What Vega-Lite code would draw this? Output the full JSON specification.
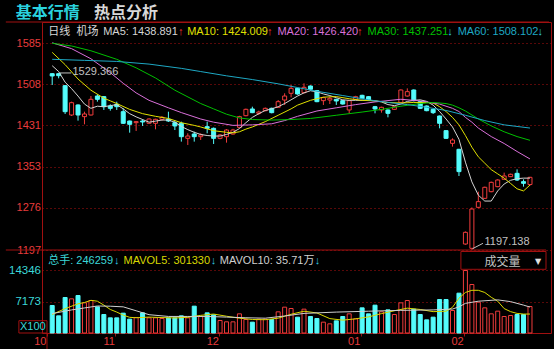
{
"$schema": "https://vega.github.io/schema/vega-lite/v6.json",
"width": 509, "height": 311,
"autosize": "none",
"padding": {"left": 42, "top": 22, "right": 3, "bottom": 16},
"background": "#000000",
"config": {"view": {"stroke": "#a01010", "strokeWidth": 1}, "font": "Liberation Sans, Noto Sans CJK SC, sans-serif"},
"datasets": {
"k": [
{"i":0,"o":1528.0,"h":1528.9,"l":1506.8,"c":1523.7,"v":6311,"d":"down"},
{"i":1,"o":1528.0,"h":1529.37,"l":1519.3,"c":1524.3,"v":3940,"d":"down"},
{"i":2,"o":1505.5,"h":1506.5,"l":1452.4,"c":1456.7,"v":8147,"d":"down"},
{"i":3,"o":1450.5,"h":1475.5,"l":1448.6,"c":1473.6,"v":7841,"d":"up"},
{"i":4,"o":1469.3,"h":1470.5,"l":1439.9,"c":1450.5,"v":8606,"d":"down"},
{"i":5,"o":1447.4,"h":1456.7,"l":1433.0,"c":1452.4,"v":6923,"d":"up"},
{"i":6,"o":1450.5,"h":1486.1,"l":1449.5,"c":1479.9,"v":7459,"d":"up"},
{"i":7,"o":1486.1,"h":1489.3,"l":1475.5,"c":1479.9,"v":6005,"d":"down"},
{"i":8,"o":1484.9,"h":1486.0,"l":1459.9,"c":1466.1,"v":4246,"d":"down"},
{"i":9,"o":1467.4,"h":1470.5,"l":1458.6,"c":1463.0,"v":3481,"d":"down"},
{"i":10,"o":1470.5,"h":1475.5,"l":1459.9,"c":1466.1,"v":3481,"d":"down"},
{"i":11,"o":1456.7,"h":1463.0,"l":1433.6,"c":1434.9,"v":4552,"d":"down"},
{"i":12,"o":1439.2,"h":1440.0,"l":1417.3,"c":1433.0,"v":3175,"d":"down"},
{"i":13,"o":1436.1,"h":1439.2,"l":1420.5,"c":1438.0,"v":3557,"d":"up"},
{"i":14,"o":1439.2,"h":1442.4,"l":1429.9,"c":1437.4,"v":4628,"d":"down"},
{"i":15,"o":1434.9,"h":1444.2,"l":1433.6,"c":1443.0,"v":3481,"d":"up"},
{"i":16,"o":1434.9,"h":1443.5,"l":1423.6,"c":1442.4,"v":3481,"d":"up"},
{"i":17,"o":1442.4,"h":1448.6,"l":1439.9,"c":1446.1,"v":3328,"d":"up"},
{"i":18,"o":1442.4,"h":1456.7,"l":1437.4,"c":1439.2,"v":3481,"d":"down"},
{"i":19,"o":1436.1,"h":1439.9,"l":1422.3,"c":1429.9,"v":3481,"d":"down"},
{"i":20,"o":1434.9,"h":1438.0,"l":1400.5,"c":1409.8,"v":3940,"d":"down"},
{"i":21,"o":1406.7,"h":1416.1,"l":1394.2,"c":1411.1,"v":3481,"d":"up"},
{"i":22,"o":1414.8,"h":1419.2,"l":1400.5,"c":1409.8,"v":6158,"d":"down"},
{"i":23,"o":1409.8,"h":1416.1,"l":1403.6,"c":1413.0,"v":3787,"d":"up"},
{"i":24,"o":1428.6,"h":1438.0,"l":1416.1,"c":1425.5,"v":4628,"d":"down"},
{"i":25,"o":1425.5,"h":1427.0,"l":1396.1,"c":1406.7,"v":4169,"d":"down"},
{"i":26,"o":1406.7,"h":1414.8,"l":1405.0,"c":1413.0,"v":2869,"d":"up"},
{"i":27,"o":1409.8,"h":1424.0,"l":1398.6,"c":1422.3,"v":2563,"d":"up"},
{"i":28,"o":1414.8,"h":1424.5,"l":1413.5,"c":1422.3,"v":2563,"d":"up"},
{"i":29,"o":1427.3,"h":1449.0,"l":1426.0,"c":1447.4,"v":4399,"d":"up"},
{"i":30,"o":1449.2,"h":1462.5,"l":1448.0,"c":1461.1,"v":3098,"d":"up"},
{"i":31,"o":1461.8,"h":1466.1,"l":1454.0,"c":1454.9,"v":2486,"d":"down"},
{"i":32,"o":1453.6,"h":1458.6,"l":1450.5,"c":1456.1,"v":3175,"d":"up"},
{"i":33,"o":1458.6,"h":1464.5,"l":1457.5,"c":1463.0,"v":3175,"d":"up"},
{"i":34,"o":1463.0,"h":1464.3,"l":1453.6,"c":1454.9,"v":3098,"d":"down"},
{"i":35,"o":1464.9,"h":1478.6,"l":1463.8,"c":1475.5,"v":4858,"d":"up"},
{"i":36,"o":1478.6,"h":1491.2,"l":1469.3,"c":1486.1,"v":5929,"d":"up"},
{"i":37,"o":1491.2,"h":1506.8,"l":1483.6,"c":1500.5,"v":5623,"d":"up"},
{"i":38,"o":1500.5,"h":1501.5,"l":1488.5,"c":1489.9,"v":3634,"d":"down"},
{"i":39,"o":1492.4,"h":1509.9,"l":1491.2,"c":1502.4,"v":5470,"d":"up"},
{"i":40,"o":1504.9,"h":1506.0,"l":1496.2,"c":1498.7,"v":3787,"d":"down"},
{"i":41,"o":1496.2,"h":1497.4,"l":1474.5,"c":1475.5,"v":3328,"d":"down"},
{"i":42,"o":1477.4,"h":1484.5,"l":1469.3,"c":1483.0,"v":2486,"d":"up"},
{"i":43,"o":1478.6,"h":1484.9,"l":1471.1,"c":1481.8,"v":2104,"d":"up"},
{"i":44,"o":1479.9,"h":1481.0,"l":1469.3,"c":1476.8,"v":2792,"d":"down"},
{"i":45,"o":1477.4,"h":1478.5,"l":1470.0,"c":1471.1,"v":3787,"d":"down"},
{"i":46,"o":1459.9,"h":1478.5,"l":1453.6,"c":1477.4,"v":4399,"d":"up"},
{"i":47,"o":1479.9,"h":1486.5,"l":1478.5,"c":1484.9,"v":3251,"d":"up"},
{"i":48,"o":1487.4,"h":1488.5,"l":1480.0,"c":1481.1,"v":5776,"d":"down"},
{"i":49,"o":1484.9,"h":1486.0,"l":1477.5,"c":1478.6,"v":4399,"d":"down"},
{"i":50,"o":1466.1,"h":1467.5,"l":1453.6,"c":1461.8,"v":6388,"d":"down"},
{"i":51,"o":1459.9,"h":1466.0,"l":1454.9,"c":1464.9,"v":4858,"d":"up"},
{"i":52,"o":1459.9,"h":1461.0,"l":1446.1,"c":1453.6,"v":5317,"d":"down"},
{"i":53,"o":1461.1,"h":1467.5,"l":1460.0,"c":1466.1,"v":4246,"d":"up"},
{"i":54,"o":1473.6,"h":1498.5,"l":1472.5,"c":1497.4,"v":6923,"d":"up"},
{"i":55,"o":1486.1,"h":1500.5,"l":1484.9,"c":1494.3,"v":7459,"d":"up"},
{"i":56,"o":1497.4,"h":1498.5,"l":1476.0,"c":1477.4,"v":5470,"d":"down"},
{"i":57,"o":1475.5,"h":1476.5,"l":1462.0,"c":1463.0,"v":4246,"d":"down"},
{"i":58,"o":1467.4,"h":1468.5,"l":1457.5,"c":1458.6,"v":3022,"d":"down"},
{"i":59,"o":1461.1,"h":1462.0,"l":1452.4,"c":1454.9,"v":3634,"d":"down"},
{"i":60,"o":1448.6,"h":1449.5,"l":1425.5,"c":1434.9,"v":7688,"d":"down"},
{"i":61,"o":1421.1,"h":1422.0,"l":1405.5,"c":1406.7,"v":7688,"d":"down"},
{"i":62,"o":1397.3,"h":1406.7,"l":1391.1,"c":1403.6,"v":5164,"d":"up"},
{"i":63,"o":1386.1,"h":1387.0,"l":1336.0,"c":1344.2,"v":9142,"d":"down"},
{"i":64,"o":1208.4,"h":1232.0,"l":1207.0,"c":1230.3,"v":14346,"d":"up"},
{"i":65,"o":1200.3,"h":1277.0,"l":1197.14,"c":1274.1,"v":11131,"d":"up"},
{"i":66,"o":1277.2,"h":1306.6,"l":1275.4,"c":1287.9,"v":7076,"d":"up"},
{"i":67,"o":1294.1,"h":1316.0,"l":1293.0,"c":1314.8,"v":5776,"d":"up"},
{"i":68,"o":1306.6,"h":1325.5,"l":1305.5,"c":1324.1,"v":4399,"d":"up"},
{"i":69,"o":1316.0,"h":1330.0,"l":1315.0,"c":1328.5,"v":5011,"d":"up"},
{"i":70,"o":1329.8,"h":1342.3,"l":1329.0,"c":1336.0,"v":3787,"d":"up"},
{"i":71,"o":1334.8,"h":1340.5,"l":1334.0,"c":1339.2,"v":4016,"d":"up"},
{"i":72,"o":1341.0,"h":1348.5,"l":1326.6,"c":1328.5,"v":4246,"d":"down"},
{"i":73,"o":1325.4,"h":1329.8,"l":1316.0,"c":1322.3,"v":4246,"d":"down"},
{"i":74,"o":1320.0,"h":1334.5,"l":1318.0,"c":1333.5,"v":6082,"d":"up"}
],
"ma": [
{"i":0,"s":"ma5","p":1543},{"i":1,"s":"ma5","p":1532},{"i":2,"s":"ma5","p":1512},{"i":3,"s":"ma5","p":1500},{"i":4,"s":"ma5","p":1486},{"i":5,"s":"ma5","p":1471},{"i":6,"s":"ma5","p":1463},{"i":7,"s":"ma5","p":1467},{"i":8,"s":"ma5","p":1466},{"i":9,"s":"ma5","p":1468},{"i":10,"s":"ma5","p":1470},{"i":11,"s":"ma5","p":1462},{"i":12,"s":"ma5","p":1453},{"i":13,"s":"ma5","p":1447},{"i":14,"s":"ma5","p":1442},{"i":15,"s":"ma5","p":1437},{"i":16,"s":"ma5","p":1439},{"i":17,"s":"ma5","p":1441},{"i":18,"s":"ma5","p":1441},{"i":19,"s":"ma5","p":1437},{"i":20,"s":"ma5","p":1429},{"i":21,"s":"ma5","p":1423},{"i":22,"s":"ma5","p":1418},{"i":23,"s":"ma5","p":1414},{"i":24,"s":"ma5","p":1412},{"i":25,"s":"ma5","p":1411},{"i":26,"s":"ma5","p":1411},{"i":27,"s":"ma5","p":1414},{"i":28,"s":"ma5","p":1418},{"i":29,"s":"ma5","p":1425},{"i":30,"s":"ma5","p":1436},{"i":31,"s":"ma5","p":1446},{"i":32,"s":"ma5","p":1453},{"i":33,"s":"ma5","p":1459},{"i":34,"s":"ma5","p":1462},{"i":35,"s":"ma5","p":1466},{"i":36,"s":"ma5","p":1472},{"i":37,"s":"ma5","p":1479},{"i":38,"s":"ma5","p":1486},{"i":39,"s":"ma5","p":1492},{"i":40,"s":"ma5","p":1496},{"i":41,"s":"ma5","p":1494},{"i":42,"s":"ma5","p":1490},{"i":43,"s":"ma5","p":1487},{"i":44,"s":"ma5","p":1483},{"i":45,"s":"ma5","p":1479},{"i":46,"s":"ma5","p":1478},{"i":47,"s":"ma5","p":1478},{"i":48,"s":"ma5","p":1478},{"i":49,"s":"ma5","p":1478},{"i":50,"s":"ma5","p":1477},{"i":51,"s":"ma5","p":1475},{"i":52,"s":"ma5","p":1470},{"i":53,"s":"ma5","p":1468},{"i":54,"s":"ma5","p":1471},{"i":55,"s":"ma5","p":1476},{"i":56,"s":"ma5","p":1478},{"i":57,"s":"ma5","p":1479},{"i":58,"s":"ma5","p":1476},{"i":59,"s":"ma5","p":1469},{"i":60,"s":"ma5","p":1457},{"i":61,"s":"ma5","p":1443},{"i":62,"s":"ma5","p":1428},{"i":63,"s":"ma5","p":1405},{"i":64,"s":"ma5","p":1362},{"i":65,"s":"ma5","p":1325},{"i":66,"s":"ma5","p":1300},{"i":67,"s":"ma5","p":1289},{"i":68,"s":"ma5","p":1289},{"i":69,"s":"ma5","p":1308},{"i":70,"s":"ma5","p":1321},{"i":71,"s":"ma5","p":1328},{"i":72,"s":"ma5","p":1331},{"i":73,"s":"ma5","p":1332},{"i":74,"s":"ma5","p":1332},
{"i":0,"s":"ma10","p":1568},{"i":2,"s":"ma10","p":1545},{"i":4,"s":"ma10","p":1518},{"i":6,"s":"ma10","p":1497},{"i":8,"s":"ma10","p":1482},{"i":9,"s":"ma10","p":1477},{"i":10,"s":"ma10","p":1472},{"i":12,"s":"ma10","p":1461},{"i":14,"s":"ma10","p":1453},{"i":16,"s":"ma10","p":1448},{"i":18,"s":"ma10","p":1444},{"i":20,"s":"ma10","p":1436},{"i":22,"s":"ma10","p":1431},{"i":23,"s":"ma10","p":1428},{"i":25,"s":"ma10","p":1421},{"i":27,"s":"ma10","p":1418},{"i":28,"s":"ma10","p":1417},{"i":29,"s":"ma10","p":1419},{"i":30,"s":"ma10","p":1424},{"i":31,"s":"ma10","p":1428},{"i":33,"s":"ma10","p":1438},{"i":35,"s":"ma10","p":1450},{"i":37,"s":"ma10","p":1462},{"i":38,"s":"ma10","p":1469},{"i":40,"s":"ma10","p":1478},{"i":42,"s":"ma10","p":1484},{"i":44,"s":"ma10","p":1485},{"i":46,"s":"ma10","p":1481},{"i":48,"s":"ma10","p":1478},{"i":50,"s":"ma10","p":1477},{"i":52,"s":"ma10","p":1474},{"i":54,"s":"ma10","p":1473},{"i":56,"s":"ma10","p":1474},{"i":58,"s":"ma10","p":1474},{"i":59,"s":"ma10","p":1473},{"i":60,"s":"ma10","p":1466},{"i":61,"s":"ma10","p":1457},{"i":62,"s":"ma10","p":1446},{"i":63,"s":"ma10","p":1432},{"i":64,"s":"ma10","p":1412},{"i":65,"s":"ma10","p":1390},{"i":66,"s":"ma10","p":1372},{"i":67,"s":"ma10","p":1360},{"i":68,"s":"ma10","p":1348},{"i":69,"s":"ma10","p":1340},{"i":70,"s":"ma10","p":1332},{"i":71,"s":"ma10","p":1322},{"i":72,"s":"ma10","p":1312},{"i":73,"s":"ma10","p":1308},{"i":74,"s":"ma10","p":1319},
{"i":0,"s":"ma20","p":1586},{"i":3,"s":"ma20","p":1575},{"i":6,"s":"ma20","p":1556},{"i":9,"s":"ma20","p":1530},{"i":11,"s":"ma20","p":1510},{"i":13,"s":"ma20","p":1492},{"i":15,"s":"ma20","p":1478},{"i":18,"s":"ma20","p":1464},{"i":20,"s":"ma20","p":1455},{"i":23,"s":"ma20","p":1443},{"i":25,"s":"ma20","p":1437},{"i":28,"s":"ma20","p":1431},{"i":31,"s":"ma20","p":1432},{"i":34,"s":"ma20","p":1434},{"i":36,"s":"ma20","p":1440},{"i":38,"s":"ma20","p":1448},{"i":41,"s":"ma20","p":1458},{"i":44,"s":"ma20","p":1464},{"i":47,"s":"ma20","p":1470},{"i":50,"s":"ma20","p":1475},{"i":54,"s":"ma20","p":1480},{"i":57,"s":"ma20","p":1477},{"i":60,"s":"ma20","p":1471},{"i":62,"s":"ma20","p":1463},{"i":63,"s":"ma20","p":1457},{"i":64,"s":"ma20","p":1446},{"i":65,"s":"ma20","p":1437},{"i":66,"s":"ma20","p":1426},{"i":68,"s":"ma20","p":1410},{"i":70,"s":"ma20","p":1397},{"i":72,"s":"ma20","p":1382},{"i":74,"s":"ma20","p":1368},
{"i":0,"s":"ma30","p":1585},{"i":3,"s":"ma30","p":1580},{"i":6,"s":"ma30","p":1571},{"i":10,"s":"ma30","p":1555},{"i":13,"s":"ma30","p":1539},{"i":16,"s":"ma30","p":1520},{"i":19,"s":"ma30","p":1497},{"i":23,"s":"ma30","p":1472},{"i":25,"s":"ma30","p":1462},{"i":27,"s":"ma30","p":1452},{"i":29,"s":"ma30","p":1445},{"i":31,"s":"ma30","p":1442},{"i":34,"s":"ma30","p":1441},{"i":37,"s":"ma30","p":1442},{"i":40,"s":"ma30","p":1444},{"i":44,"s":"ma30","p":1450},{"i":48,"s":"ma30","p":1456},{"i":51,"s":"ma30","p":1461},{"i":54,"s":"ma30","p":1467},{"i":57,"s":"ma30","p":1472},{"i":59,"s":"ma30","p":1474},{"i":61,"s":"ma30","p":1472},{"i":62,"s":"ma30","p":1469},{"i":63,"s":"ma30","p":1464},{"i":64,"s":"ma30","p":1458},{"i":66,"s":"ma30","p":1443},{"i":68,"s":"ma30","p":1430},{"i":70,"s":"ma30","p":1419},{"i":72,"s":"ma30","p":1410},{"i":74,"s":"ma30","p":1403},
{"i":0,"s":"ma60","p":1555},{"i":5,"s":"ma60","p":1553},{"i":10,"s":"ma60","p":1551},{"i":15,"s":"ma60","p":1546},{"i":20,"s":"ma60","p":1538},{"i":23,"s":"ma60","p":1532},{"i":27,"s":"ma60","p":1524},{"i":31,"s":"ma60","p":1517},{"i":35,"s":"ma60","p":1509},{"i":38,"s":"ma60","p":1502},{"i":41,"s":"ma60","p":1495},{"i":45,"s":"ma60","p":1487},{"i":49,"s":"ma60","p":1479},{"i":52,"s":"ma60","p":1474},{"i":55,"s":"ma60","p":1470},{"i":58,"s":"ma60","p":1465},{"i":61,"s":"ma60","p":1459},{"i":64,"s":"ma60","p":1450},{"i":67,"s":"ma60","p":1440},{"i":70,"s":"ma60","p":1432},{"i":74,"s":"ma60","p":1426}
],
"mv": [
{"i":0,"s":"mv5","v":4250},{"i":2,"s":"mv5","v":5600},{"i":4,"s":"mv5","v":6700},{"i":5,"s":"mv5","v":7000},{"i":6,"s":"mv5","v":7500},{"i":7,"s":"mv5","v":7300},{"i":8,"s":"mv5","v":6400},{"i":9,"s":"mv5","v":5400},{"i":10,"s":"mv5","v":4800},{"i":11,"s":"mv5","v":4100},{"i":12,"s":"mv5","v":3600},{"i":13,"s":"mv5","v":3500},{"i":15,"s":"mv5","v":3650},{"i":17,"s":"mv5","v":3550},{"i":19,"s":"mv5","v":3450},{"i":21,"s":"mv5","v":3600},{"i":23,"s":"mv5","v":4050},{"i":25,"s":"mv5","v":4350},{"i":27,"s":"mv5","v":3850},{"i":29,"s":"mv5","v":3400},{"i":31,"s":"mv5","v":3100},{"i":33,"s":"mv5","v":3050},{"i":35,"s":"mv5","v":3400},{"i":37,"s":"mv5","v":4300},{"i":39,"s":"mv5","v":5000},{"i":41,"s":"mv5","v":4600},{"i":43,"s":"mv5","v":3300},{"i":45,"s":"mv5","v":2950},{"i":47,"s":"mv5","v":3250},{"i":49,"s":"mv5","v":3700},{"i":51,"s":"mv5","v":4450},{"i":53,"s":"mv5","v":5100},{"i":55,"s":"mv5","v":5700},{"i":57,"s":"mv5","v":5400},{"i":59,"s":"mv5","v":4900},{"i":61,"s":"mv5","v":5000},{"i":62,"s":"mv5","v":5900},{"i":63,"s":"mv5","v":8000},{"i":64,"s":"mv5","v":9300},{"i":65,"s":"mv5","v":9800},{"i":66,"s":"mv5","v":9800},{"i":67,"s":"mv5","v":9300},{"i":68,"s":"mv5","v":8200},{"i":69,"s":"mv5","v":7300},{"i":70,"s":"mv5","v":5600},{"i":71,"s":"mv5","v":4900},{"i":72,"s":"mv5","v":4500},{"i":73,"s":"mv5","v":4350},{"i":74,"s":"mv5","v":4350},
{"i":0,"s":"mv10","v":4450},{"i":3,"s":"mv10","v":5300},{"i":5,"s":"mv10","v":5750},{"i":7,"s":"mv10","v":6200},{"i":9,"s":"mv10","v":6150},{"i":11,"s":"mv10","v":6000},{"i":13,"s":"mv10","v":5100},{"i":15,"s":"mv10","v":4200},{"i":18,"s":"mv10","v":3800},{"i":21,"s":"mv10","v":3800},{"i":24,"s":"mv10","v":3800},{"i":27,"s":"mv10","v":3650},{"i":30,"s":"mv10","v":3500},{"i":33,"s":"mv10","v":3400},{"i":36,"s":"mv10","v":3900},{"i":39,"s":"mv10","v":4500},{"i":44,"s":"mv10","v":4800},{"i":49,"s":"mv10","v":5000},{"i":54,"s":"mv10","v":5200},{"i":59,"s":"mv10","v":5300},{"i":62,"s":"mv10","v":5500},{"i":63,"s":"mv10","v":6000},{"i":64,"s":"mv10","v":6800},{"i":66,"s":"mv10","v":7300},{"i":69,"s":"mv10","v":7600},{"i":71,"s":"mv10","v":7200},{"i":73,"s":"mv10","v":6400},{"i":74,"s":"mv10","v":5950}
],
"hdr": [
{"t":"基本行情","s":"hdr","i":-5.66,"p":1642.8},
{"t":"热点分析","s":"hdr2","i":6.48,"p":1642.8}
],
"cjk": [
{"t":"日线","s":"hdr2","i":-0.61,"p":1605.3},
{"t":"机场","s":"hdr2","i":3.75,"p":1605.3}
],
"ptxt": [
{"t":"MA5: 1438.891","s":"ma5","i":7.9,"p":1605.3},
{"t":"↑","s":"aup","i":19.47,"p":1605.3},
{"t":"MA10: 1424.009","s":"ma10","i":20.91,"p":1605.3},
{"t":"↑","s":"aup","i":33.25,"p":1605.3},
{"t":"MA20: 1426.420","s":"ma20","i":34.88,"p":1605.3},
{"t":"↑","s":"aup","i":47.2,"p":1605.3},
{"t":"MA30: 1437.251","s":"ma30","i":48.85,"p":1605.3},
{"t":"↓","s":"adn","i":61.19,"p":1605.3},
{"t":"MA60: 1508.102","s":"ma60","i":62.8,"p":1605.3},
{"t":"↓","s":"adn","i":75.16,"p":1605.3},
{"t":"1529.366","s":"txt","i":3.14,"p":1531.0},
{"t":"1197.138","s":"txt","i":66.96,"p":1212.7}
],
"vtxt": [
{"t":"总手: 246259","s":"vol","i":-0.61,"v":16594},
{"t":"↓","s":"adn","i":9.59,"v":16594},
{"t":"MAVOL5: 301330","s":"mv5","i":11.04,"v":16594},
{"t":"↓","s":"adn","i":24.55,"v":16594},
{"t":"MAVOL10: 35.71万","s":"mv10","i":25.96,"v":16594},
{"t":"↓","s":"adn","i":40.65,"v":16594}
],
"vbox": [{"t":"成交量","s":"txt","i":69.75,"v":16364}],
"vtri": [{"t":"▼","s":"white","i":75.27,"v":16364}],
"vx": [{"t":"X100","s":"vol","i":-3.0,"v":1308}]
},
"layer": [
{"layer": [
 {"data": {"name": "k"}, "mark": {"type": "rule", "strokeWidth": 1},
  "encoding": {
   "x": {"field": "i", "type": "quantitative", "scale": {"domain": [-0.805, 76.48], "nice": false, "zero": false}, "title": null,
     "axis": {"orient": "bottom", "values": [-0.805, 9.8, 25.9, 47.8, 63.8], "labelExpr": "datum.value < 0 ? '10' : datum.value < 15 ? '11' : datum.value < 30 ? '12' : datum.value < 50 ? '01' : '02'", "labelColor": "#e83c3c", "labelFont": "Liberation Sans", "labelFontSize": 11, "labelAlign": "right", "labelBaseline": "top", "labelOffset": -1, "labelPadding": -1, "ticks": true, "tickSize": 3, "tickColor": "#a01010", "domain": false, "grid": false, "labelFlush": false, "labelOverlap": false, "labelBound": false, "title": null}},
   "y": {"field": "l", "type": "quantitative", "scale": {"domain": [1041.4, 1625.0], "nice": false, "zero": false}, "title": null,
     "axis": {"orient": "left", "values": [1197, 1276, 1353, 1431, 1508, 1585], "format": "d", "labelColor": "#e83c3c", "labelFont": "Liberation Sans", "labelFontSize": 11, "labelAlign": "right", "labelBaseline": "middle", "labelPadding": 1.5, "ticks": false, "tickSize": 0, "domain": false, "grid": true, "gridColor": "#b01010", "gridDash": [1, 3], "gridWidth": 1, "labelFlush": false, "labelOverlap": false, "labelBound": false, "title": null}},
   "y2": {"field": "h"},
   "color": {"field": "d", "type": "nominal", "legend": null,
     "scale": {"domain": ["up","down","ma5","ma10","ma20","ma30","ma60","mv5","mv10","hdr","hdr2","txt","vol","aup","adn","white"], "range": ["#f03c3c","#54fcfc","#d4d4d4","#e0e000","#da70da","#00c000","#1ea8c4","#d8d800","#d0d0d0","#2ad2de","#d8d8d8","#c0c0c0","#3cd8d8","#ff3030","#30c8e0","#e0e0e0"]}}
  }},
 {"data": {"name": "k"}, "mark": {"type": "bar", "width": 4, "strokeWidth": 1},
  "encoding": {
   "x": {"field": "i", "type": "quantitative", "scale": {"domain": [-0.805, 76.48], "nice": false, "zero": false}, "title": null},
   "y": {"field": "o", "type": "quantitative", "scale": {"domain": [1041.4, 1625.0], "nice": false, "zero": false}, "title": null},
   "y2": {"field": "c"},
   "fill": {"field": "d", "type": "nominal", "legend": null, "scale": {"domain": ["up","down"], "range": ["#000000","#54fcfc"]}},
   "stroke": {"field": "d", "type": "nominal", "legend": null, "scale": {"domain": ["up","down"], "range": ["#f03c3c","#54fcfc"]}}
  }},
 {"data": {"name": "ma"}, "mark": {"type": "line", "strokeWidth": 1},
  "encoding": {
   "x": {"field": "i", "type": "quantitative", "scale": {"domain": [-0.805, 76.48], "nice": false, "zero": false}, "title": null},
   "y": {"field": "p", "type": "quantitative", "scale": {"domain": [1041.4, 1625.0], "nice": false, "zero": false}, "title": null},
   "color": {"field": "s", "type": "nominal", "legend": null,
     "scale": {"domain": ["up","down","ma5","ma10","ma20","ma30","ma60","mv5","mv10","hdr","hdr2","txt","vol","aup","adn","white"], "range": ["#f03c3c","#54fcfc","#d4d4d4","#e0e000","#da70da","#00c000","#1ea8c4","#d8d800","#d0d0d0","#2ad2de","#d8d8d8","#c0c0c0","#3cd8d8","#ff3030","#30c8e0","#e0e0e0"]}}
  }},
 {"data": {"values": [{}]}, "mark": {"type": "rule", "color": "#a01010", "strokeWidth": 1},
  "encoding": {
   "x": {"datum": -7.18, "type": "quantitative", "scale": {"domain": [-0.805, 76.48], "nice": false, "zero": false}, "title": null},
   "x2": {"datum": 76.94},
   "y": {"datum": 1625.0, "type": "quantitative", "scale": {"domain": [1041.4, 1625.0], "nice": false, "zero": false}, "title": null}
  }},
 {"data": {"values": [{}]}, "mark": {"type": "rule", "color": "#a01010", "strokeWidth": 1},
  "encoding": {
   "x": {"datum": -7.18, "type": "quantitative", "scale": {"domain": [-0.805, 76.48], "nice": false, "zero": false}, "title": null},
   "x2": {"datum": 76.48},
   "y": {"datum": 1197.14, "type": "quantitative", "scale": {"domain": [1041.4, 1625.0], "nice": false, "zero": false}, "title": null}
  }},
 {"data": {"values": [{}]}, "mark": {"type": "rule", "color": "#c0c0c0", "strokeWidth": 1},
  "encoding": {
   "x": {"datum": 1.15, "type": "quantitative", "scale": {"domain": [-0.805, 76.48], "nice": false, "zero": false}, "title": null},
   "x2": {"datum": 2.95},
   "y": {"datum": 1529.37, "type": "quantitative", "scale": {"domain": [1041.4, 1625.0], "nice": false, "zero": false}, "title": null}
  }},
 {"data": {"values": [{}]}, "mark": {"type": "rule", "color": "#c0c0c0", "strokeWidth": 1},
  "encoding": {
   "x": {"datum": 65.1, "type": "quantitative", "scale": {"domain": [-0.805, 76.48], "nice": false, "zero": false}, "title": null},
   "x2": {"datum": 66.72},
   "y": {"datum": 1199.6, "type": "quantitative", "scale": {"domain": [1041.4, 1625.0], "nice": false, "zero": false}, "title": null},
   "y2": {"datum": 1209.7}
  }},
 {"data": {"name": "hdr"}, "mark": {"type": "text", "align": "left", "baseline": "middle", "fontSize": 16, "fontWeight": "bold", "font": "Noto Sans CJK SC"},
  "encoding": {
   "x": {"field": "i", "type": "quantitative", "scale": {"domain": [-0.805, 76.48], "nice": false, "zero": false}, "title": null},
   "y": {"field": "p", "type": "quantitative", "scale": {"domain": [1041.4, 1625.0], "nice": false, "zero": false}, "title": null},
   "text": {"field": "t"},
   "color": {"field": "s", "type": "nominal", "legend": null,
     "scale": {"domain": ["up","down","ma5","ma10","ma20","ma30","ma60","mv5","mv10","hdr","hdr2","txt","vol","aup","adn","white"], "range": ["#f03c3c","#54fcfc","#d4d4d4","#e0e000","#da70da","#00c000","#1ea8c4","#d8d800","#d0d0d0","#2ad2de","#d8d8d8","#c0c0c0","#3cd8d8","#ff3030","#30c8e0","#e0e0e0"]}}
  }},
 {"data": {"name": "cjk"}, "mark": {"type": "text", "align": "left", "baseline": "middle", "fontSize": 11, "font": "Noto Sans CJK SC"},
  "encoding": {
   "x": {"field": "i", "type": "quantitative", "scale": {"domain": [-0.805, 76.48], "nice": false, "zero": false}, "title": null},
   "y": {"field": "p", "type": "quantitative", "scale": {"domain": [1041.4, 1625.0], "nice": false, "zero": false}, "title": null},
   "text": {"field": "t"},
   "color": {"field": "s", "type": "nominal", "legend": null,
     "scale": {"domain": ["up","down","ma5","ma10","ma20","ma30","ma60","mv5","mv10","hdr","hdr2","txt","vol","aup","adn","white"], "range": ["#f03c3c","#54fcfc","#d4d4d4","#e0e000","#da70da","#00c000","#1ea8c4","#d8d800","#d0d0d0","#2ad2de","#d8d8d8","#c0c0c0","#3cd8d8","#ff3030","#30c8e0","#e0e0e0"]}}
  }},
 {"data": {"name": "ptxt"}, "mark": {"type": "text", "align": "left", "baseline": "middle", "fontSize": 11},
  "encoding": {
   "x": {"field": "i", "type": "quantitative", "scale": {"domain": [-0.805, 76.48], "nice": false, "zero": false}, "title": null},
   "y": {"field": "p", "type": "quantitative", "scale": {"domain": [1041.4, 1625.0], "nice": false, "zero": false}, "title": null},
   "text": {"field": "t"},
   "color": {"field": "s", "type": "nominal", "legend": null,
     "scale": {"domain": ["up","down","ma5","ma10","ma20","ma30","ma60","mv5","mv10","hdr","hdr2","txt","vol","aup","adn","white"], "range": ["#f03c3c","#54fcfc","#d4d4d4","#e0e000","#da70da","#00c000","#1ea8c4","#d8d800","#d0d0d0","#2ad2de","#d8d8d8","#c0c0c0","#3cd8d8","#ff3030","#30c8e0","#e0e0e0"]}}
  }}
]},
{"layer": [
 {"data": {"name": "k"}, "mark": {"type": "bar", "width": 4, "strokeWidth": 1},
  "encoding": {
   "x": {"field": "i", "type": "quantitative", "scale": {"domain": [-0.805, 76.48], "nice": false, "zero": false}, "title": null},
   "y": {"field": "v", "type": "quantitative", "stack": null, "scale": {"domain": [0, 71380], "nice": false, "zero": true}, "title": null,
     "axis": {"orient": "left", "values": [7173, 14346], "format": "d", "labelColor": "#3cd8d8", "labelFont": "Liberation Sans", "labelFontSize": 11.5, "labelAlign": "right", "labelBaseline": "middle", "labelPadding": 1.5, "ticks": false, "tickSize": 0, "domain": false, "grid": true, "gridColor": "#b01010", "gridDash": [1, 3], "gridWidth": 1, "labelFlush": false, "labelOverlap": false, "labelBound": false, "title": null}},
   "fill": {"field": "d", "type": "nominal", "legend": null, "scale": {"domain": ["up","down"], "range": ["#000000","#54fcfc"]}},
   "stroke": {"field": "d", "type": "nominal", "legend": null, "scale": {"domain": ["up","down"], "range": ["#f03c3c","#54fcfc"]}}
  }},
 {"data": {"name": "mv"}, "mark": {"type": "line", "strokeWidth": 1},
  "encoding": {
   "x": {"field": "i", "type": "quantitative", "scale": {"domain": [-0.805, 76.48], "nice": false, "zero": false}, "title": null},
   "y": {"field": "v", "type": "quantitative", "scale": {"domain": [0, 71380], "nice": false, "zero": true}, "title": null},
   "color": {"field": "s", "type": "nominal", "legend": null,
     "scale": {"domain": ["up","down","ma5","ma10","ma20","ma30","ma60","mv5","mv10","hdr","hdr2","txt","vol","aup","adn","white"], "range": ["#f03c3c","#54fcfc","#d4d4d4","#e0e000","#da70da","#00c000","#1ea8c4","#d8d800","#d0d0d0","#2ad2de","#d8d8d8","#c0c0c0","#3cd8d8","#ff3030","#30c8e0","#e0e0e0"]}}
  }},
 {"data": {"values": [{}]}, "mark": {"type": "rect", "filled": false, "color": "#a01010", "strokeWidth": 1},
  "encoding": {
   "x": {"datum": 63.3, "type": "quantitative", "scale": {"domain": [-0.805, 76.48], "nice": false, "zero": false}, "title": null},
   "x2": {"datum": 76.48},
   "y": {"datum": 18705, "type": "quantitative", "scale": {"domain": [0, 71380], "nice": false, "zero": true}, "title": null},
   "y2": {"datum": 14620}
  }},
 {"data": {"values": [{}]}, "mark": {"type": "rect", "filled": false, "color": "#a01010", "strokeWidth": 1},
  "encoding": {
   "x": {"datum": -5.16, "type": "quantitative", "scale": {"domain": [-0.805, 76.48], "nice": false, "zero": false}, "title": null},
   "x2": {"datum": -0.805},
   "y": {"datum": 2823, "type": "quantitative", "scale": {"domain": [0, 71380], "nice": false, "zero": true}, "title": null},
   "y2": {"datum": 0}
  }},
 {"data": {"values": [{}]}, "mark": {"type": "rule", "color": "#a01010", "strokeWidth": 1},
  "encoding": {
   "x": {"datum": -0.805, "type": "quantitative", "scale": {"domain": [-0.805, 76.48], "nice": false, "zero": false}, "title": null},
   "y": {"datum": 0, "type": "quantitative", "scale": {"domain": [0, 71380], "nice": false, "zero": true}, "title": null},
   "y2": {"datum": -3700}
  }},
 {"data": {"name": "vtxt"}, "mark": {"type": "text", "align": "left", "baseline": "middle", "fontSize": 11},
  "encoding": {
   "x": {"field": "i", "type": "quantitative", "scale": {"domain": [-0.805, 76.48], "nice": false, "zero": false}, "title": null},
   "y": {"field": "v", "type": "quantitative", "scale": {"domain": [0, 71380], "nice": false, "zero": true}, "title": null},
   "text": {"field": "t"},
   "color": {"field": "s", "type": "nominal", "legend": null,
     "scale": {"domain": ["up","down","ma5","ma10","ma20","ma30","ma60","mv5","mv10","hdr","hdr2","txt","vol","aup","adn","white"], "range": ["#f03c3c","#54fcfc","#d4d4d4","#e0e000","#da70da","#00c000","#1ea8c4","#d8d800","#d0d0d0","#2ad2de","#d8d8d8","#c0c0c0","#3cd8d8","#ff3030","#30c8e0","#e0e0e0"]}}
  }},
 {"data": {"name": "vbox"}, "mark": {"type": "text", "align": "center", "baseline": "middle", "fontSize": 12, "font": "Noto Sans CJK SC"},
  "encoding": {
   "x": {"field": "i", "type": "quantitative", "scale": {"domain": [-0.805, 76.48], "nice": false, "zero": false}, "title": null},
   "y": {"field": "v", "type": "quantitative", "scale": {"domain": [0, 71380], "nice": false, "zero": true}, "title": null},
   "text": {"field": "t"},
   "color": {"field": "s", "type": "nominal", "legend": null,
     "scale": {"domain": ["up","down","ma5","ma10","ma20","ma30","ma60","mv5","mv10","hdr","hdr2","txt","vol","aup","adn","white"], "range": ["#f03c3c","#54fcfc","#d4d4d4","#e0e000","#da70da","#00c000","#1ea8c4","#d8d800","#d0d0d0","#2ad2de","#d8d8d8","#c0c0c0","#3cd8d8","#ff3030","#30c8e0","#e0e0e0"]}}
  }},
 {"data": {"name": "vtri"}, "mark": {"type": "text", "align": "center", "baseline": "middle", "fontSize": 8, "font": "DejaVu Sans"},
  "encoding": {
   "x": {"field": "i", "type": "quantitative", "scale": {"domain": [-0.805, 76.48], "nice": false, "zero": false}, "title": null},
   "y": {"field": "v", "type": "quantitative", "scale": {"domain": [0, 71380], "nice": false, "zero": true}, "title": null},
   "text": {"field": "t"},
   "color": {"field": "s", "type": "nominal", "legend": null,
     "scale": {"domain": ["up","down","ma5","ma10","ma20","ma30","ma60","mv5","mv10","hdr","hdr2","txt","vol","aup","adn","white"], "range": ["#f03c3c","#54fcfc","#d4d4d4","#e0e000","#da70da","#00c000","#1ea8c4","#d8d800","#d0d0d0","#2ad2de","#d8d8d8","#c0c0c0","#3cd8d8","#ff3030","#30c8e0","#e0e0e0"]}}
  }},
 {"data": {"name": "vx"}, "mark": {"type": "text", "align": "center", "baseline": "middle", "fontSize": 11},
  "encoding": {
   "x": {"field": "i", "type": "quantitative", "scale": {"domain": [-0.805, 76.48], "nice": false, "zero": false}, "title": null},
   "y": {"field": "v", "type": "quantitative", "scale": {"domain": [0, 71380], "nice": false, "zero": true}, "title": null},
   "text": {"field": "t"},
   "color": {"field": "s", "type": "nominal", "legend": null,
     "scale": {"domain": ["up","down","ma5","ma10","ma20","ma30","ma60","mv5","mv10","hdr","hdr2","txt","vol","aup","adn","white"], "range": ["#f03c3c","#54fcfc","#d4d4d4","#e0e000","#da70da","#00c000","#1ea8c4","#d8d800","#d0d0d0","#2ad2de","#d8d8d8","#c0c0c0","#3cd8d8","#ff3030","#30c8e0","#e0e0e0"]}}
  }}
]}
],
"resolve": {"scale": {"y": "independent"}, "axis": {"y": "independent"}}
}
